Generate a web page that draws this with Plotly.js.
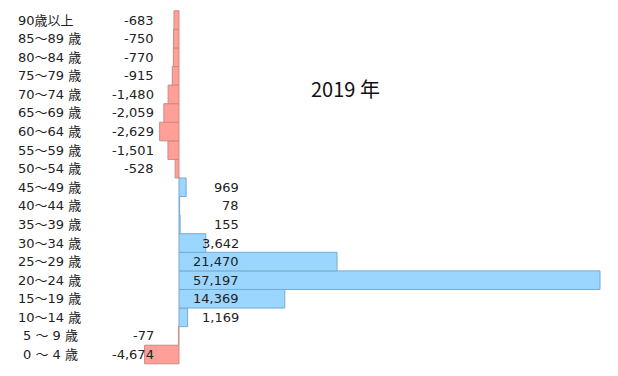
<!DOCTYPE html>
<html><head><meta charset="utf-8">
<script src="https://cdn.plot.ly/plotly-3.0.1.min.js"></script>
<style>html,body{margin:0;padding:0;background:#fff;}#chart{width:618px;height:376px;}</style>
</head><body><div id="chart"></div>
<script>
const categories = ["0 ～ 4 歳","5 ～ 9 歳","10～14 歳","15～19 歳","20～24 歳","25～29 歳","30～34 歳","35～39 歳","40～44 歳","45～49 歳","50～54 歳","55～59 歳","60～64 歳","65～69 歳","70～74 歳","75～79 歳","80～84 歳","85～89 歳","90歳以上"];
const values = [-4674,-77,1169,14369,57197,21470,3642,155,78,969,-528,-1501,-2629,-2059,-1480,-915,-770,-750,-683];
const titleText = "2019 年";

const font = "'DejaVu Sans', 'Noto Sans CJK JP', sans-serif";
const titleFont = "'Noto Sans CJK JP', 'Noto Sans', sans-serif";
const posFill = "#9ad6ff", posLine = "#7aa9cc";
const negFill = "#ff9f98", negLine = "#cc8a85";

const trace = {
  type: "bar", orientation: "h",
  y: categories, x: values,
  marker: {
    color: values.map(v => v >= 0 ? posFill : negFill),
    line: {color: values.map(v => v >= 0 ? posLine : negLine), width: 1}
  },
  hoverinfo: "none"
};

const annotations = [];
categories.forEach((c, i) => {
  const indent = c.startsWith("0 ") || c.startsWith("5 ") ? 0.008 : 0;
  annotations.push({xref: "paper", yref: "y", x: 16/618 + indent, y: c, text: c, showarrow: false,
    xanchor: "left", yanchor: "middle", font: {family: font, size: 13, color: "#222"}});
  const v = values[i];
  annotations.push({xref: "paper", yref: "y", x: (v >= 0 ? 241 : 156)/618, y: c,
    text: v.toLocaleString("en-US"), showarrow: false, xanchor: "right", yanchor: "middle",
    font: {family: font, size: 13, color: "#222"}});
});
annotations.push({xref: "paper", yref: "paper", x: 345/618, y: 1 - 89/376, text: titleText, showarrow: false,
  xanchor: "center", yanchor: "middle", font: {family: titleFont, size: 20, color: "#111"}});

const layout = {
  width: 618, height: 376,
  margin: {l: 0, r: 0, t: 0, b: 0},
  paper_bgcolor: "#fff", plot_bgcolor: "#fff",
  bargap: 0,
  showlegend: false,
  xaxis: {range: [-24320, 59640], visible: false, fixedrange: true},
  yaxis: {type: "category", range: [-1.157, 19.08], visible: false, fixedrange: true},
  annotations: annotations
};
Plotly.newPlot("chart", [trace], layout, {displayModeBar: false, staticPlot: true});
</script></body></html>
